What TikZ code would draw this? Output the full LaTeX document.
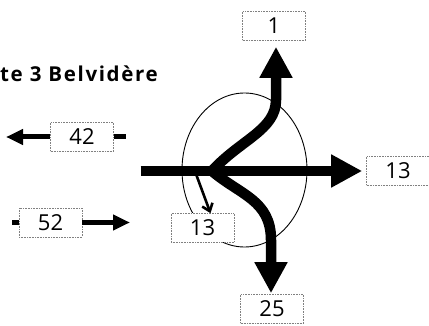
\documentclass[tikz,border=0pt]{standalone}
\usepackage{fontspec}
\setmainfont{Open Sans}
\newfontfamily\titlefont[LetterSpace=8]{Open Sans}
\usetikzlibrary{arrows.meta,shapes.geometric}
\tikzset{
  lbl/.style={draw=gray, densely dotted, line width=0.6pt, fill=white, minimum width=63pt, minimum height=29pt, inner sep=0pt, font=\fontsize{22}{22}\selectfont},
  bigflow/.style={line width=10.5pt, -{Triangle[length=31pt,width=31pt]}},
  midflow/.style={line width=5pt, -{Triangle[length=17pt,width=15pt]}},
  thinflow/.style={line width=2.6pt, -{Straight Barb[length=7pt,width=11pt,line width=2.6pt]}},
}
\begin{document}
\begin{tikzpicture}[x=1pt,y=-1pt]
\useasboundingbox (0,0) rectangle (429,326);
% ellipse
\node (ell) [draw, line width=0.9pt, ellipse, minimum width=125pt, minimum height=154pt, inner sep=0pt] at (244.5,170) {};
% title
\node (title) [anchor=base west, inner sep=0pt, font=\titlefont\fontsize{20.5}{20}\selectfont\bfseries] at (0,82) {te 3 Belvidère};
% boxes
\node (b1) [lbl] at (274,26) {1};
\node (b13r) [lbl] at (398,171) {13};
\node (b25) [lbl] at (272,309) {25};
\node (b42) [lbl] at (82,137) {42};
\node (b52) [lbl] at (50.5,222.5) {52};
\node (b13s) [lbl] at (202.5,228) {13};
% branch points
\coordinate (start) at (140.5,171);
\coordinate (fork) at (212,171);
\coordinate (tipL) at (6,137);
\coordinate (stubR) at (126,137);
\coordinate (stubL) at (12,222.5);
\coordinate (tipR) at (130,222.5);
\coordinate (smallA) at (196,174);
% main horizontal
\draw[bigflow] (start) -- ([xshift=-4pt]b13r.west);
% upper branch
\draw[bigflow] (fork) .. controls (240,140) and (276,130) .. (276,100) -- ([yshift=-6pt]b1.south -| 276,0);
% lower branch
\draw[bigflow] (fork) .. controls (240,195) and (271,200) .. (271,240) -- ([yshift=1pt]b25.north -| 271,0);
% left arrows
\draw[midflow] (b42.west) -- (tipL);
\draw[line width=5pt] (b42.east) -- (stubR);
\draw[line width=5pt] (stubL) -- (b52.west);
\draw[midflow] (b52.east) -- (tipR);
% small arrow
\draw[thinflow] (smallA) -- ([xshift=8pt]b13s.north);
\end{tikzpicture}
\end{document}
